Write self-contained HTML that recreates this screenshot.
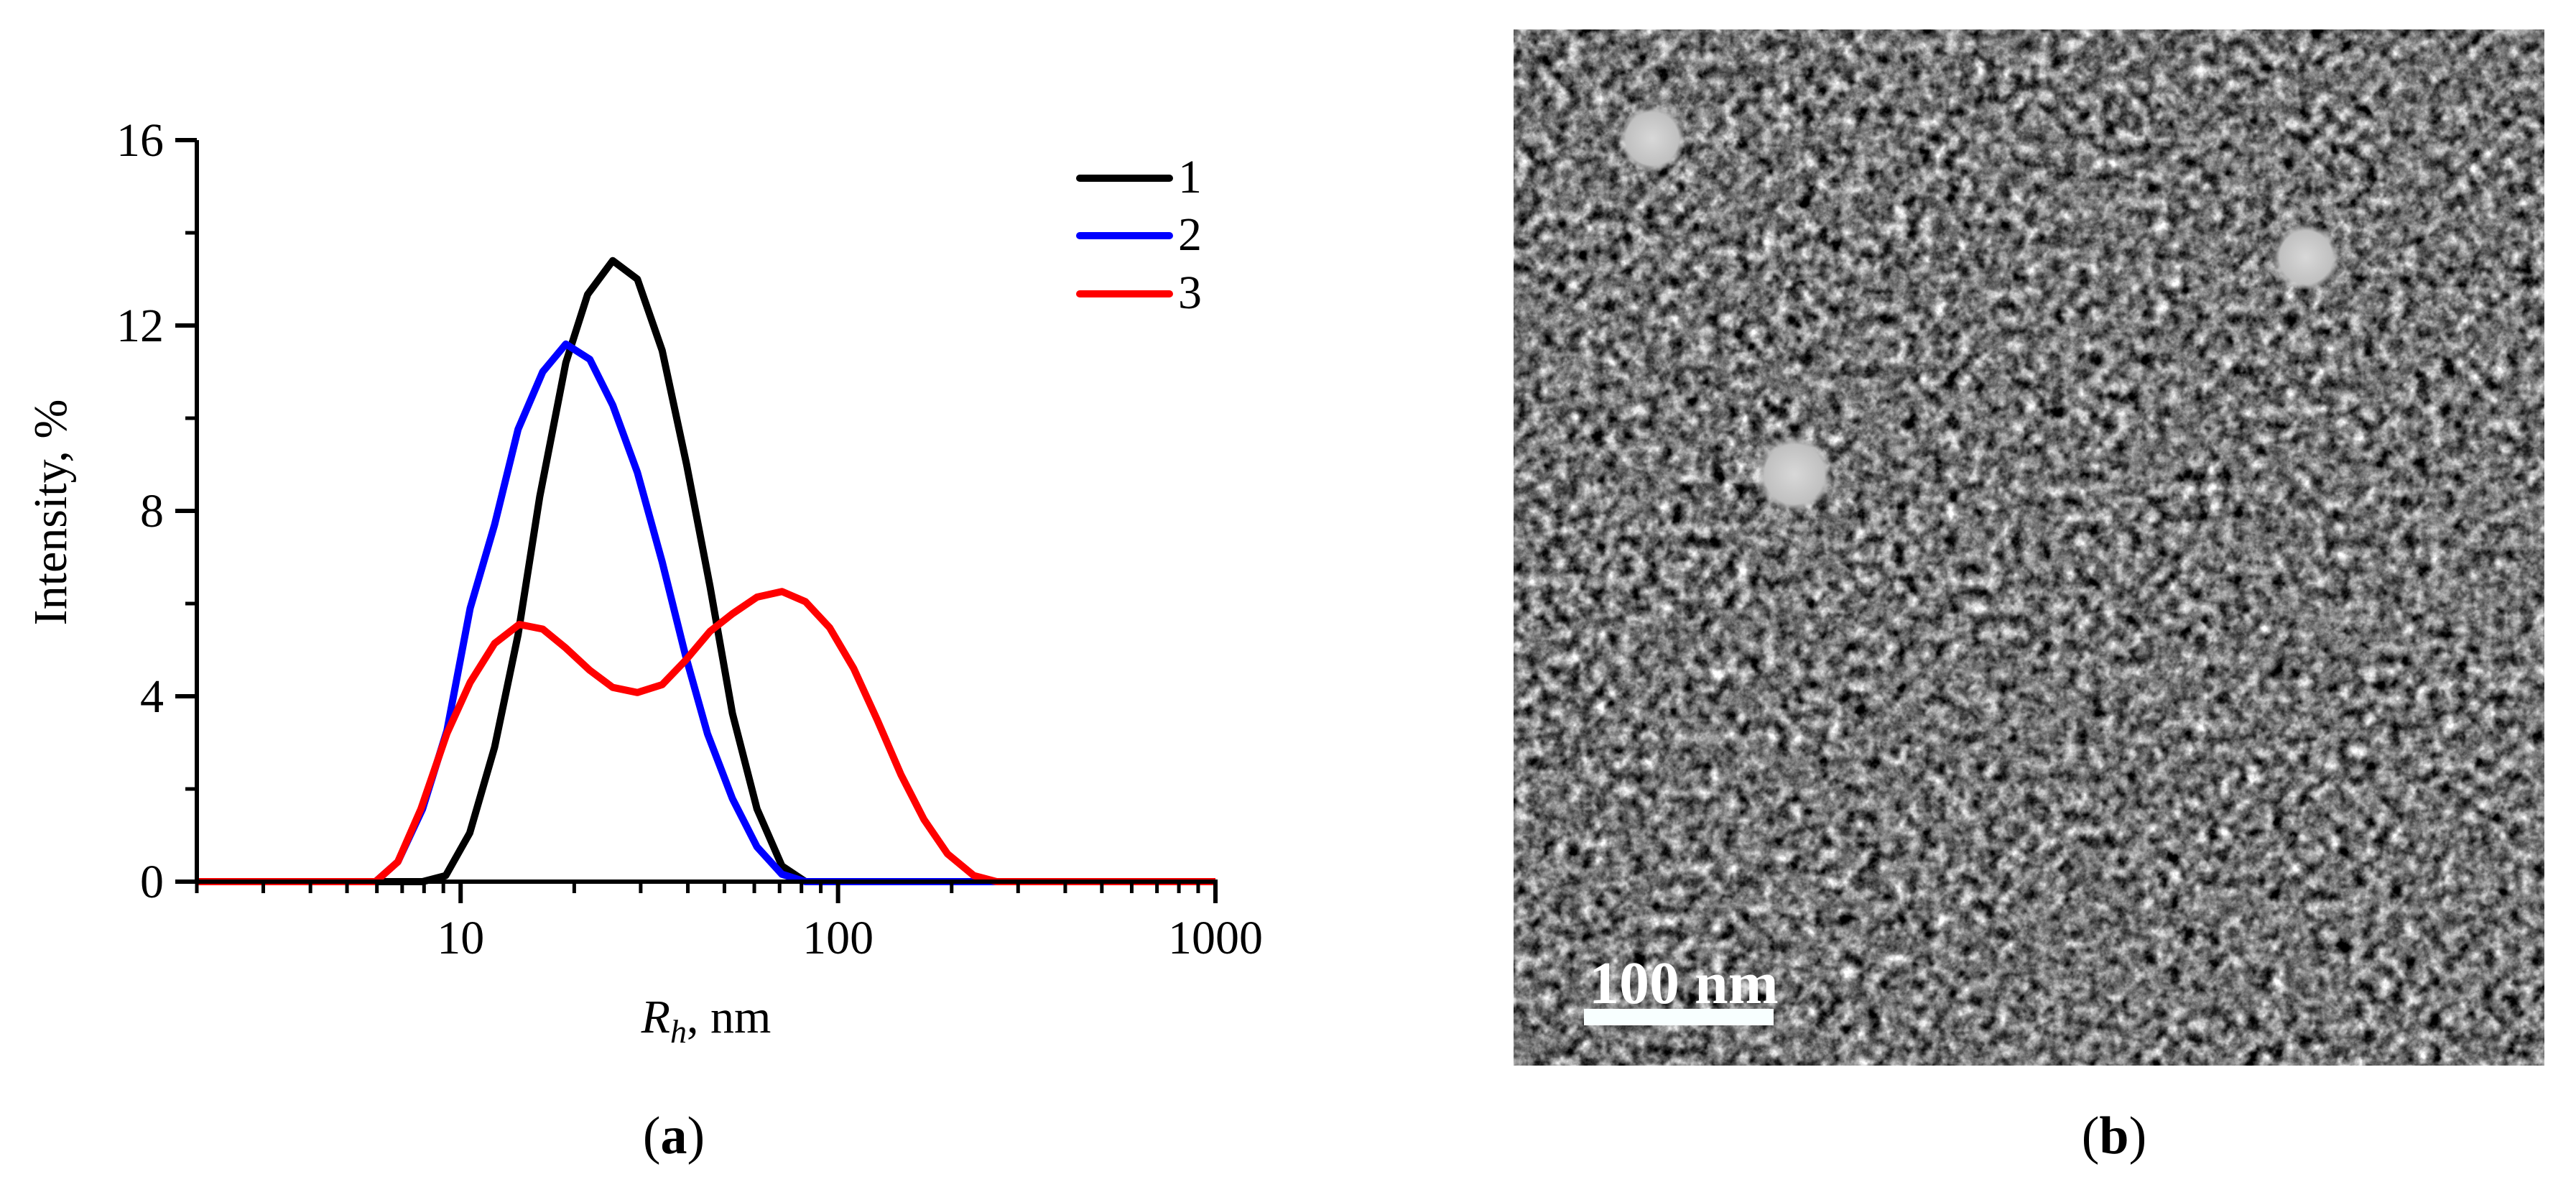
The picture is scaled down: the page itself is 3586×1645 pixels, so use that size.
<!DOCTYPE html>
<html><head><meta charset="utf-8"><style>
html,body{margin:0;padding:0;background:#fff;}
svg{display:block;}
text{font-family:"Liberation Serif",serif;}
</style></head><body>
<svg id="fig" width="3586" height="1645" viewBox="0 0 3586 1645" xmlns="http://www.w3.org/2000/svg">
<defs>
<filter id="tem" x="0" y="0" width="100%" height="100%" color-interpolation-filters="sRGB">
<feTurbulence type="fractalNoise" baseFrequency="0.055" numOctaves="4" seed="7" result="n"/>
<feColorMatrix in="n" type="matrix" values="0.33 0.33 0.33 0 0  0.33 0.33 0.33 0 0  0.33 0.33 0.33 0 0  0 0 0 0 1" result="g"/>
<feComponentTransfer in="g"><feFuncR type="linear" slope="2.6" intercept="-0.83"/><feFuncG type="linear" slope="2.6" intercept="-0.83"/><feFuncB type="linear" slope="2.6" intercept="-0.83"/></feComponentTransfer>
</filter>
<radialGradient id="pg"><stop offset="0" stop-color="#d8d8d8"/><stop offset="0.8" stop-color="#c0c0c0"/><stop offset="1" stop-color="#c0c0c0" stop-opacity="0"/></radialGradient>
</defs>
<g id="chart"></g>
<g>
<rect x="2107" y="41" width="1435" height="1442" fill="#7c7c7c" filter="url(#tem)"/>
<circle cx="2300" cy="193" r="46" fill="url(#pg)"/>
<circle cx="3210" cy="358" r="46" fill="url(#pg)"/>
<circle cx="2498" cy="660" r="52" fill="url(#pg)"/>
<rect x="2205" y="1404" width="264" height="23" fill="#f8ffff"/>
<text x="2212" y="1396" font-size="84" font-weight="bold" fill="#fff">100 nm</text>
</g>
<text x="938" y="1605" font-size="74" text-anchor="middle">(<tspan font-weight="bold">a</tspan>)</text>
<text x="2943" y="1605" font-size="74" text-anchor="middle">(<tspan font-weight="bold">b</tspan>)</text>
</svg>
<script>
const xTicks=[10,100,1000];
const xTickLabels=["10","100","1000"];
const yTicks=[0,4,8,12,16];
const yTickLabels=["0","4","8","12","16"];
const seriesNames=["1","2","3"];
const seriesColors=["#000","#0000ff","#ff0000"];
const x1=[2,7.93,9.13,10.57,12.3,14.2,16.2,19.0,21.7,25.3,29.4,34.2,39.7,45.8,52.5,61,71,82,1000];
const y1=[0,0,0.13,1.05,2.9,5.33,8.3,11.2,12.67,13.4,13.0,11.46,9.0,6.37,3.63,1.57,0.34,0,0];
const x2=[2,5.95,6.82,7.93,9.2,10.6,12.3,14.2,16.5,19.0,22.0,25.3,29.4,34.2,39.4,45.1,52.5,61,71,82,1000];
const y2=[0,0,0.43,1.57,3.26,5.9,7.7,9.76,11.0,11.6,11.27,10.28,8.83,6.9,4.89,3.19,1.79,0.75,0.16,0,0];
const x3=[2,5.95,6.82,7.85,9.2,10.6,12.3,14.3,16.5,19.0,22.0,25.3,29.4,34.2,39.4,45.8,52.5,61,71,82,95,110,127,147,169,195,229,263,1000];
const y3=[0,0,0.43,1.57,3.2,4.3,5.14,5.55,5.45,5.04,4.56,4.19,4.08,4.25,4.77,5.4,5.78,6.14,6.26,6.04,5.48,4.6,3.49,2.3,1.34,0.6,0.13,0,0];

const NS="http://www.w3.org/2000/svg";
const X0=274,X1=1692,Y0=1227,Y1=195,XMIN=2,XMAX=1000,YMAX=16;
const sx=v=>X0+(Math.log10(v)-Math.log10(XMIN))/(Math.log10(XMAX)-Math.log10(XMIN))*(X1-X0);
const sy=v=>Y0-v/YMAX*(Y0-Y1);
const g=document.getElementById('chart');
function mk(tag,attrs,parent){const e=document.createElementNS(NS,tag);for(const k in attrs)e.setAttribute(k,attrs[k]);(parent||g).appendChild(e);return e;}

[[x1,y1],[x2,y2],[x3,y3]].forEach((s,i)=>{
  const d=s[0].map((x,j)=>(j?'L':'M')+sx(x).toFixed(1)+','+sy(s[1][j]).toFixed(1)).join('');
  const p=mk('path',{d:d,fill:'none',stroke:seriesColors[i],'stroke-width':10,'stroke-linejoin':'round'});
  
  
});
const ya=mk('line',{x1:X0,y1:Y1,x2:X0,y2:Y0+3,stroke:'#000','stroke-width':6});


const xa=mk('line',{x1:X0-3,y1:Y0,x2:X1+3,y2:Y0,stroke:'#000','stroke-width':6});


yTicks.forEach((v,i)=>{
  const t=mk('line',{x1:X0-30,y1:sy(v),x2:X0,y2:sy(v),stroke:'#000','stroke-width':6});
  
  
  const l=mk('text',{x:X0-46,y:sy(v)+22,'font-size':66,'text-anchor':'end'});
  l.textContent=yTickLabels[i];
  
  
  if(i<yTicks.length-1){
    const m=mk('line',{x1:X0-16,y1:sy(v+2),x2:X0,y2:sy(v+2),stroke:'#000','stroke-width':5});
    
    
  }
});
for(let dec=1;dec<=100;dec*=10){for(let k=1;k<10;k++){const v=dec*k;if(v<XMIN||xTicks.includes(v))continue;
  const m=mk('line',{x1:sx(v),y1:Y0,x2:sx(v),y2:Y0+16,stroke:'#000','stroke-width':5});
  
  }}
xTicks.forEach((v,i)=>{
  const t=mk('line',{x1:sx(v),y1:Y0,x2:sx(v),y2:Y0+30,stroke:'#000','stroke-width':6});
  
  
  const l=mk('text',{x:sx(v),y:Y0+100,'font-size':66,'text-anchor':'middle'});
  l.textContent=xTickLabels[i];
  
  
});
const xt=mk('text',{x:983,y:1437,'font-size':66,'text-anchor':'middle'});
xt.innerHTML='<tspan font-style="italic">R</tspan><tspan font-style="italic" font-size="46" dy="14">h</tspan><tspan dy="-14">, nm</tspan>';


const yt=mk('text',{x:0,y:0,'font-size':66,'text-anchor':'middle',transform:'translate(92,713) rotate(-90)'});
yt.textContent='Intensity, %';


const legY=[248,328,409];
seriesNames.forEach((n,i)=>{
  const l=mk('line',{x1:1503,y1:legY[i],x2:1628,y2:legY[i],stroke:seriesColors[i],'stroke-width':10,'stroke-linecap':'round'});
  
  
  const t=mk('text',{x:1640,y:legY[i]+20,'font-size':66});
  t.textContent=n;
  
  
});
</script>
</body></html>
